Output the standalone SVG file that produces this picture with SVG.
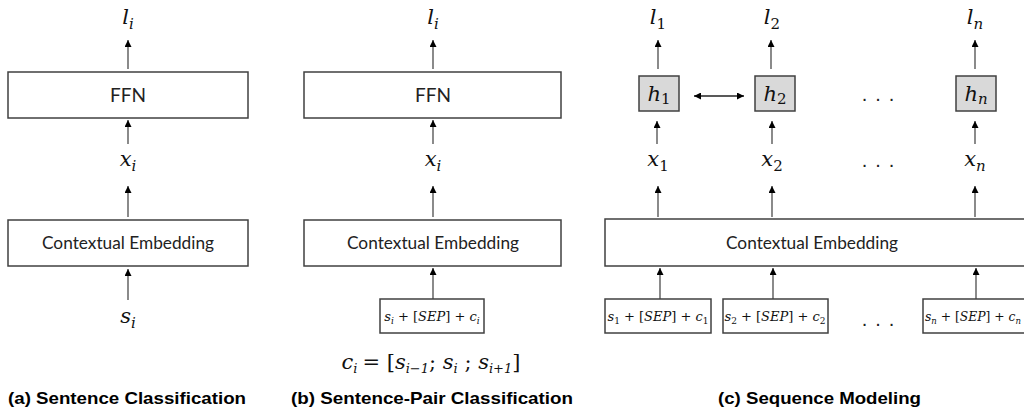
<svg xmlns="http://www.w3.org/2000/svg" width="1024" height="410" viewBox="0 0 1024 410">
<style>
.box{fill:#fff;stroke:#404040;stroke-width:1.5}
.hbox{fill:#d9d9d9;stroke:#404040;stroke-width:1.5}
.ar{stroke:#595959;stroke-width:1.4;fill:none;marker-end:url(#ah)}
.ar2{stroke:#222;stroke-width:1.4;fill:none;marker-end:url(#ah);marker-start:url(#ahs)}
.lbl{font-family:Lato,"Open Sans","Liberation Sans",sans-serif;fill:#222;text-anchor:middle}
.m{font-family:"DejaVu Serif","Liberation Serif",serif;font-style:italic;font-size:21px;fill:#111;text-anchor:middle}
.ms{font-family:"DejaVu Serif","Liberation Serif",serif;font-style:italic;font-size:13px;fill:#111}
.n{font-style:normal}
.cap{font-family:"Liberation Sans",Arial,sans-serif;font-weight:bold;font-size:17px;fill:#000}
.dots{font-family:"Liberation Sans",sans-serif;font-size:20px;fill:#222;text-anchor:middle;letter-spacing:8px}
</style>
<defs>
<marker id="ah" viewBox="0 0 10 10" refX="10" refY="5" markerWidth="7" markerHeight="7" markerUnits="userSpaceOnUse" orient="auto"><path d="M0,0 L10,5 L0,10 z" fill="#000"/></marker>
<marker id="ahs" viewBox="0 0 10 10" refX="0" refY="5" markerWidth="7" markerHeight="7" markerUnits="userSpaceOnUse" orient="auto"><path d="M10,0 L0,5 L10,10 z" fill="#000"/></marker>
</defs>

<g id="connectors">
<line class="ar" x1="128" y1="69" x2="128" y2="40"/>
<line class="ar" x1="128" y1="144" x2="128" y2="120"/>
<line class="ar" x1="128" y1="217" x2="128" y2="186"/>
<line class="ar" x1="128" y1="300" x2="128" y2="269"/>
<line class="ar" x1="433" y1="69" x2="433" y2="40"/>
<line class="ar" x1="433" y1="144" x2="433" y2="120"/>
<line class="ar" x1="433" y1="217" x2="433" y2="186"/>
<line class="ar" x1="433" y1="299" x2="433" y2="268"/>
<line class="ar" x1="658" y1="69" x2="658" y2="40"/>
<line class="ar" x1="771" y1="69" x2="771" y2="40"/>
<line class="ar" x1="975" y1="69" x2="975" y2="40"/>
<line class="ar" x1="657" y1="144" x2="657" y2="121"/>
<line class="ar" x1="772" y1="144" x2="772" y2="121"/>
<line class="ar" x1="975" y1="144" x2="975" y2="121"/>
<line class="ar" x1="658" y1="217" x2="658" y2="186"/>
<line class="ar" x1="772" y1="217" x2="772" y2="186"/>
<line class="ar" x1="975" y1="217" x2="975" y2="186"/>
<line class="ar" x1="660" y1="299" x2="660" y2="268"/>
<line class="ar" x1="773" y1="299" x2="773" y2="268"/>
<line class="ar" x1="976" y1="299" x2="976" y2="268"/>
<line class="ar2" x1="694" y1="96" x2="744" y2="96"/>
</g>

<g id="a-labels">
<text class="m" x="128" y="24">l<tspan font-size="15" dy="5">i</tspan></text>
<text class="m" x="128" y="166">x<tspan font-size="15" dy="5">i</tspan></text>
<text class="m" x="128" y="323">s<tspan font-size="15" dy="5">i</tspan></text>
</g>
<g id="a-ffn"><rect class="box" x="8" y="72" width="240" height="46"/><text class="lbl" x="128" y="102" font-size="19">FFN</text></g>
<g id="a-ce"><rect class="box" x="8" y="220" width="240" height="46"/><text class="lbl" x="128" y="249" font-size="17" textLength="172" lengthAdjust="spacingAndGlyphs">Contextual Embedding</text></g>

<g id="b-labels">
<text class="m" x="431" y="369" font-size="19">c<tspan font-size="13" dy="4">i</tspan><tspan class="n" dx="5" dy="-4">= [</tspan>s<tspan font-size="13" dy="4">i−1</tspan><tspan class="n" dy="-4">; </tspan>s<tspan font-size="13" dy="4">i</tspan><tspan class="n" dy="-4"> ; </tspan>s<tspan font-size="13" dy="4">i+1</tspan><tspan class="n" dy="-4">]</tspan></text>
<text class="m" x="433" y="24">l<tspan font-size="15" dy="5">i</tspan></text>
<text class="m" x="433" y="166">x<tspan font-size="15" dy="5">i</tspan></text>
</g>
<g id="b-ffn"><rect class="box" x="304" y="72" width="257" height="46"/><text class="lbl" x="433" y="102" font-size="19">FFN</text></g>
<g id="b-ce"><rect class="box" x="304" y="220" width="257" height="46"/><text class="lbl" x="433" y="249" font-size="17" textLength="172" lengthAdjust="spacingAndGlyphs">Contextual Embedding</text></g>
<g id="b-in"><rect class="box" x="380" y="299" width="104" height="34"/><text class="ms" x="432" y="321" style="text-anchor:middle">s<tspan font-size="9" dy="3">i</tspan><tspan class="n" dy="-3"> + [</tspan>SEP<tspan class="n">] + </tspan>c<tspan font-size="9" dy="3">i</tspan></text></g>

<g id="c-labels">
<text class="m" x="658" y="24">l<tspan class="n" font-size="15" dy="5">1</tspan></text>
<text class="m" x="772" y="24">l<tspan class="n" font-size="15" dy="5">2</tspan></text>
<text class="m" x="975" y="24">l<tspan font-size="15" dy="5">n</tspan></text>
<text class="m" x="658" y="166">x<tspan class="n" font-size="15" dy="5">1</tspan></text>
<text class="m" x="772" y="166">x<tspan class="n" font-size="15" dy="5">2</tspan></text>
<text class="m" x="975" y="166">x<tspan font-size="15" dy="5">n</tspan></text>
<text class="dots" x="882" y="101">...</text>
<text class="dots" x="882" y="167">...</text>
<text class="dots" x="882" y="326">...</text>
</g>
<g id="c-h1"><rect class="hbox" x="639" y="76" width="40" height="35"/><text class="m" x="659" y="101">h<tspan class="n" font-size="15" dy="3">1</tspan></text></g>
<g id="c-h2"><rect class="hbox" x="755" y="76" width="40" height="35"/><text class="m" x="775" y="101">h<tspan class="n" font-size="15" dy="3">2</tspan></text></g>
<g id="c-hn"><rect class="hbox" x="956" y="76" width="40" height="35"/><text class="m" x="976" y="101">h<tspan font-size="15" dy="3">n</tspan></text></g>
<g id="c-ce"><path class="box" d="M1024,219 H605 V266 H1024"/><text class="lbl" x="812" y="249" font-size="17" textLength="172" lengthAdjust="spacingAndGlyphs">Contextual Embedding</text></g>
<g id="c-in1"><rect class="box" x="605" y="299" width="106" height="34"/><text class="ms" x="658" y="321" style="text-anchor:middle">s<tspan class="n" font-size="9" dy="3">1</tspan><tspan class="n" dy="-3"> + [</tspan>SEP<tspan class="n">] + </tspan>c<tspan class="n" font-size="9" dy="3">1</tspan></text></g>
<g id="c-in2"><rect class="box" x="723" y="299" width="105" height="34"/><text class="ms" x="775" y="321" style="text-anchor:middle">s<tspan class="n" font-size="9" dy="3">2</tspan><tspan class="n" dy="-3"> + [</tspan>SEP<tspan class="n">] + </tspan>c<tspan class="n" font-size="9" dy="3">2</tspan></text></g>
<g id="c-inn"><path class="box" d="M1024,299 H923 V333 H1024"/><text class="ms" x="925" y="321" style="text-anchor:start" textLength="96" lengthAdjust="spacingAndGlyphs">s<tspan font-size="9" dy="3">n</tspan><tspan class="n" dy="-3"> + [</tspan>SEP<tspan class="n">] + </tspan>c<tspan font-size="9" dy="3">n</tspan></text></g>

<g id="captions">
<text class="cap" x="8" y="404" textLength="238" lengthAdjust="spacingAndGlyphs">(a) Sentence Classification</text>
<text class="cap" x="291" y="404" textLength="282" lengthAdjust="spacingAndGlyphs">(b) Sentence-Pair Classification</text>
<text class="cap" x="718" y="404" textLength="203" lengthAdjust="spacingAndGlyphs">(c) Sequence Modeling</text>
</g>
</svg>
